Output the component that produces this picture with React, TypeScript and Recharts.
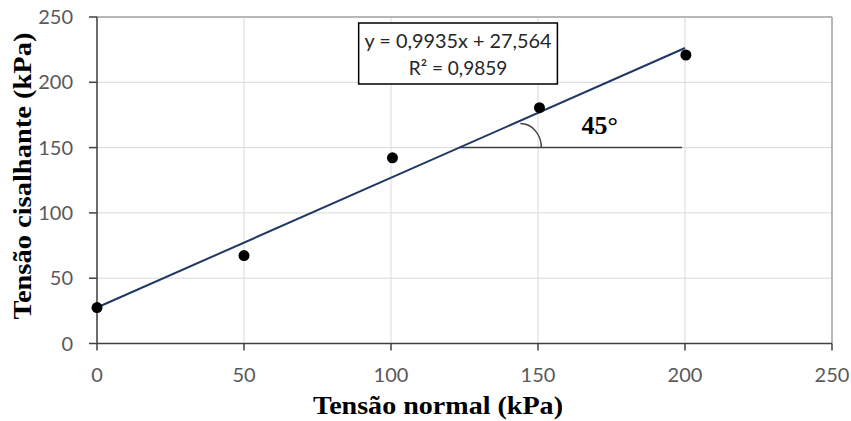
import React from 'react';
import {
  ScatterChart,
  Scatter,
  XAxis,
  YAxis,
  CartesianGrid,
  ReferenceLine,
  ReferenceArea,
  ReferenceDot,
} from 'recharts';

// measured points
const normalStress = [0, 50, 100.5, 150.5, 200.3];
const shearStress = [27.5, 67.3, 142.2, 180.6, 220.9];

// linear trendline end points (y = 0,9935x + 27,564)
const trendX = [0, 200];
const trendY = [27.564, 226.264];

const axisTicks = [0, 50, 100, 150, 200, 250];

// 45° annotation
const angleLineY = 150;
const angleLineX = [123.2, 199];
const arcCenterX = 144;
const angleLabel = '45°';
const angleLabelPos = { x: 171, y: 166 };

// equation box
const eqLines = ['y = 0,9935x + 27,564', 'R² = 0,9859'];
const eqBoxX = [89, 156.6];
const eqBoxY = [198.7, 245.4];

const points = normalStress.map((x, i) => ({ x, y: shearStress[i] }));
const trend = trendX.map((x, i) => ({ x, y: trendY[i] }));

const tickStyle = { fontSize: 20, fill: '#595959', fontFamily: 'Lato, sans-serif' };
const titleFont = '"Liberation Serif", "Times New Roman", serif';

export default function App() {
  return (
    <div style={{ position: 'absolute', left: 0, top: 0, width: 851, height: 421, background: '#fff' }}>
      <ScatterChart width={851} height={421} margin={{ top: 17, right: 19, bottom: 0, left: 0 }}>
        <CartesianGrid stroke="#d9d9d9" strokeWidth={1} />
        <XAxis
          type="number"
          dataKey="x"
          domain={[0, 250]}
          ticks={axisTicks}
          height={77.5}
          tick={tickStyle}
          tickSize={7}
          tickMargin={17}
          axisLine={{ stroke: '#404040', strokeWidth: 1.5 }}
          tickLine={{ stroke: '#404040', strokeWidth: 1.5 }}
        />
        <YAxis
          type="number"
          dataKey="y"
          domain={[0, 250]}
          ticks={axisTicks}
          width={97}
          tick={tickStyle}
          tickSize={8}
          tickMargin={16}
          axisLine={{ stroke: '#404040', strokeWidth: 1.5 }}
          tickLine={{ stroke: '#404040', strokeWidth: 1.5 }}
        />
        <ReferenceLine y={250} stroke="#a6a6a6" strokeWidth={1.5} />
        <ReferenceLine x={250} stroke="#a6a6a6" strokeWidth={1.5} />
        <Scatter
          data={trend}
          line={{ stroke: '#1F3864', strokeWidth: 2 }}
          shape={() => <g />}
          isAnimationActive={false}
        />
        <ReferenceLine
          segment={[
            { x: angleLineX[0], y: angleLineY },
            { x: angleLineX[1], y: angleLineY },
          ]}
          stroke="#404040"
          strokeWidth={1.5}
        />
        <ReferenceDot
          x={arcCenterX}
          y={angleLineY}
          r={0}
          shape={(p: any) => (
            <path
              d={`M ${p.cx} ${p.cy - 24} A 21 24 0 0 1 ${p.cx + 21} ${p.cy}`}
              fill="none"
              stroke="#404040"
              strokeWidth={1.5}
            />
          )}
        />
        <Scatter
          data={points}
          shape={(p: any) => <circle cx={p.cx} cy={p.cy} r={5.5} fill="#000" />}
          isAnimationActive={false}
        />
        <ReferenceArea
          x1={eqBoxX[0]}
          x2={eqBoxX[1]}
          y1={eqBoxY[0]}
          y2={eqBoxY[1]}
          fill="#fff"
          fillOpacity={1}
          stroke="#000"
          strokeWidth={1.5}
        />
        <ReferenceDot
          x={(eqBoxX[0] + eqBoxX[1]) / 2}
          y={(eqBoxY[0] + eqBoxY[1]) / 2}
          r={0}
          shape={(p: any) => (
            <g fontFamily="Lato, sans-serif" fontSize={19} fill="#262626" textAnchor="middle">
              <text x={p.cx} y={p.cy - 5.5} textLength={187} lengthAdjust="spacingAndGlyphs">
                {eqLines[0]}
              </text>
              <text x={p.cx} y={p.cy + 21.5}>
                {eqLines[1]}
              </text>
            </g>
          )}
        />
        <ReferenceDot
          x={angleLabelPos.x}
          y={angleLabelPos.y}
          r={0}
          shape={(p: any) => (
            <text
              x={p.cx}
              y={p.cy + 7}
              textAnchor="middle"
              fontFamily={titleFont}
              fontWeight="bold"
              fontSize={26}
              fill="#000"
            >
              {angleLabel}
            </text>
          )}
        />
      </ScatterChart>
      <svg
        width={851}
        height={421}
        style={{ position: 'absolute', left: 0, top: 0, pointerEvents: 'none' }}
      >
        <text
          x={438}
          y={414}
          textAnchor="middle"
          fontFamily={titleFont}
          fontWeight="bold"
          fontSize={26}
          textLength={250}
          lengthAdjust="spacingAndGlyphs"
          fill="#000"
        >
          Tensão normal (kPa)
        </text>
        <text
          transform="translate(31,176) rotate(-90)"
          textAnchor="middle"
          fontFamily={titleFont}
          fontWeight="bold"
          fontSize={26}
          textLength={287}
          lengthAdjust="spacingAndGlyphs"
          fill="#000"
        >
          Tensão cisalhante (kPa)
        </text>
      </svg>
    </div>
  );
}
